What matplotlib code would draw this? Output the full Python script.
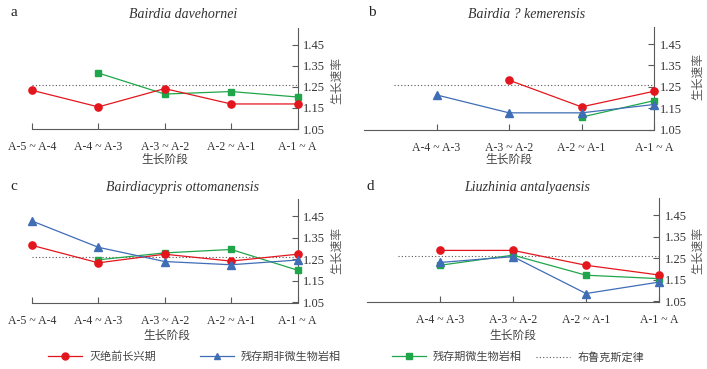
import numpy as np
import matplotlib
matplotlib.use('Agg')
import matplotlib.pyplot as plt
from matplotlib.lines import Line2D

nan = np.nan
stages = ['A-5 ~ A-4', 'A-4 ~ A-3', 'A-3 ~ A-2', 'A-2 ~ A-1', 'A-1 ~ A']
brooks = 1.26

# a  Bairdia davehornei
a_red = [1.234, 1.155, 1.242, 1.169, 1.169]
a_green = [nan, 1.316, 1.216, 1.228, 1.202]
# b  Bairdia ? kemerensis
b_red = [nan, nan, 1.281, 1.156, 1.229]
b_blue = [nan, 1.212, 1.128, 1.128, 1.167]
b_green = [nan, nan, nan, 1.108, 1.185]
# c  Bairdiacypris ottomanensis
c_red = [1.315, 1.234, 1.274, 1.242, 1.274]
c_blue = [1.428, 1.306, 1.240, 1.225, 1.247]
c_green = [nan, 1.248, 1.280, 1.296, 1.200]
# d  Liuzhinia antalyaensis
d_red = [nan, 1.287, 1.287, 1.218, 1.173]
d_blue = [nan, 1.231, 1.258, 1.087, 1.140]
d_green = [nan, 1.218, 1.265, 1.172, 1.156]

series_names = ['灭绝前长兴期', '残存期非微生物岩相', '残存期微生物岩相', '布鲁克斯定律']
RED, BLUE, GREEN = '#E3161E', '#3F6DB6', '#1FA64A'
AX_C = '#5a5a5a'
TXT_C = '#333333'
SERIF = 'Liberation Serif'
CJK = ['Noto Sans CJK SC', 'DejaVu Sans']

W, H = 707, 369
fig = plt.figure(figsize=(W / 100, H / 100), dpi=100)


def px_axes(x0, x1, ytop, ybot):
    return fig.add_axes([x0 / W, 1 - ybot / H, (x1 - x0) / W, (ybot - ytop) / H])


def panel(ax, red, blue, green, first, dot_start):
    x = np.arange(5)
    if green is not None:
        ax.plot(x, green, color=GREEN, lw=0.9, marker='s', ms=5, zorder=3, clip_on=False)
    ax.plot(x, red, color=RED, lw=0.9, marker='o', ms=5.2, zorder=4, clip_on=False)
    if blue is not None:
        ax.plot(x, blue, color=BLUE, lw=0.9, marker='^', ms=5.2, zorder=5, clip_on=False)
    ax.hlines(brooks, dot_start, 4, colors='#555555', linestyles=(0, (1, 2)), lw=0.8)
    ax.set_xlim(0, 4)
    ax.set_ylim(1.05, 1.53)
    for s in ['top', 'left']:
        ax.spines[s].set_visible(False)
    for s in ['right', 'bottom']:
        ax.spines[s].set_color(AX_C)
        ax.spines[s].set_linewidth(0.8)
    ax.yaxis.tick_right()
    ax.set_yticks([1.05, 1.15, 1.25, 1.35, 1.45])
    ax.set_yticklabels(['1.05', '1.15', '1.25', '1.35', '1.45'])
    ticks = list(range(first, 5))
    ax.set_xticks(ticks)
    ax.set_xticklabels([stages[i] for i in ticks])
    ax.tick_params(axis='y', direction='in', length=4, width=0.8, color=AX_C,
                   pad=4, labelsize=9, labelcolor=TXT_C)
    ax.tick_params(axis='x', direction='in', length=4, width=0.8, color=AX_C,
                   pad=9, labelsize=8.5, labelcolor=TXT_C)
    for lab in ax.get_xticklabels() + ax.get_yticklabels():
        lab.set_fontfamily(SERIF)
    ax.patch.set_alpha(0)


ax_a = px_axes(32, 297.5, 28, 129)
panel(ax_a, a_red, None, a_green, 0, 0)
ax_b = px_axes(364, 654, 27, 129.5)
panel(ax_b, b_red, b_blue, b_green, 1, 0.42)
ax_c = px_axes(32, 297.5, 199, 302.5)
panel(ax_c, c_red, c_blue, c_green, 0, 0)
ax_d = px_axes(367, 659, 198, 301.5)
panel(ax_d, d_red, d_blue, d_green, 1, 0.42)

# titles, panel letters, axis labels
titles = ['Bairdia davehornei', 'Bairdia ? kemerensis',
          'Bairdiacypris ottomanensis', 'Liuzhinia antalyaensis']
title_xy = [(183, 14), (527, 14), (182, 187), (527, 187)]
letters = ['a', 'b', 'c', 'd']
letter_xy = [(14, 13), (372, 13), (14, 186), (370, 186)]
ylab_xy = [(337, 80), (698, 77), (337, 250), (698, 250)]
xlab_xy = [(165, 159), (509, 159), (167, 335), (513, 335)]
for i in range(4):
    fig.text(title_xy[i][0] / W, 1 - title_xy[i][1] / H, titles[i], family=SERIF,
             style='italic', fontsize=10, color=TXT_C, ha='center', va='center')
    fig.text(letter_xy[i][0] / W, 1 - letter_xy[i][1] / H, letters[i], family=SERIF,
             fontsize=11, color='#222222', ha='center', va='center')
    fig.text(ylab_xy[i][0] / W, 1 - ylab_xy[i][1] / H, '生长速率', family=CJK,
             fontsize=8.5, color='#555555', rotation=90, ha='center', va='center')
    fig.text(xlab_xy[i][0] / W, 1 - xlab_xy[i][1] / H, '生长阶段', family=CJK,
             fontsize=8.5, color='#444444', ha='center', va='center')

# legend
handles = [
    Line2D([], [], color=RED, lw=0.9, marker='o', ms=5),
    Line2D([], [], color=BLUE, lw=0.9, marker='^', ms=5),
    Line2D([], [], color=GREEN, lw=0.9, marker='s', ms=5),
    Line2D([], [], color='#555555', lw=0.8, linestyle=(0, (1, 2))),
]
leg_x = [48, 200, 392, 536]
for h, name, lx in zip(handles, series_names, leg_x):
    leg = fig.legend([h], [name], loc='center left', bbox_to_anchor=(lx / W, 1 - 357 / H),
                     frameon=False, borderpad=0, borderaxespad=0, handlelength=3.1,
                     handletextpad=0.6, prop={'family': CJK, 'size': 8})
    for t in leg.get_texts():
        t.set_color('#444444')

fig.savefig('out.png', dpi=100)
